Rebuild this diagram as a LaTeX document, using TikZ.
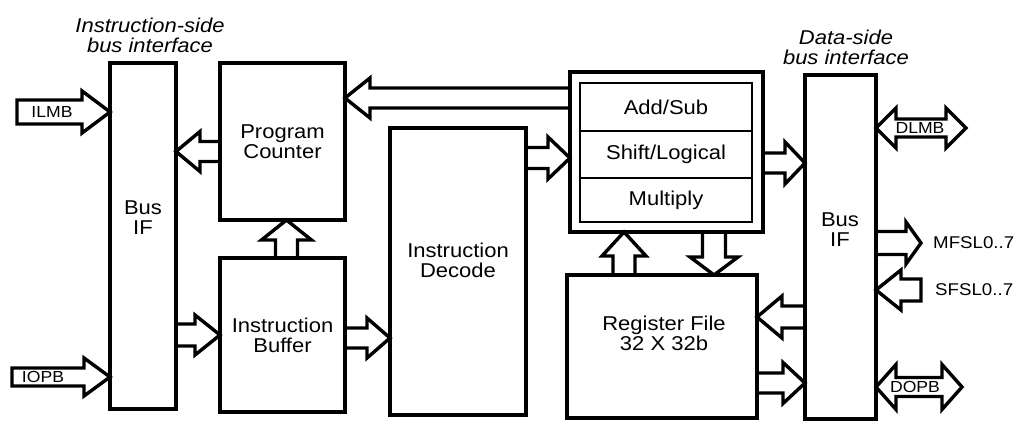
\documentclass[tikz,border=0pt]{standalone}
\usepackage{fontspec}
\usetikzlibrary{calc}
\newfontfamily\diagfont{Liberation Sans}[FakeStretch=1.1]
\tikzset{
	ublock/.style={draw, line width=4.8pt, inner sep=0pt, outer sep=0pt},
	alurow/.style={draw, line width=2.8pt, inner sep=0pt, outer sep=0pt, minimum width=172pt, font=\diagfont\fontsize{20}{20}\selectfont},
	btext/.style={align=center, inner sep=0pt, font=\diagfont\fontsize{20}{20}\selectfont},
	itext/.style={align=center, inner sep=0pt, font=\diagfont\itshape\fontsize{20}{20}\selectfont},
	ptext/.style={inner sep=0pt, font=\diagfont\fontsize{16}{16}\selectfont},
	stext/.style={inner sep=0pt, anchor=west, font=\diagfont\fontsize{17}{17}\selectfont},
	barr/.style={draw, line width=3.4pt, line join=miter}
}
\newcommand{\hblk}[5]{%
	\draw[barr] let \p1=(#1), \p2=(#2), \n1={sign(\x2-\x1)*#5} in
		(\x1,{\y1+#3}) -- ({\x2-\n1},{\y1+#3}) -- ({\x2-\n1},{\y1+#4})
		-- (\x2,\y1) -- ({\x2-\n1},{\y1-#4}) -- ({\x2-\n1},{\y1-#3})
		-- (\x1,{\y1-#3}) -- cycle;}
\newcommand{\vblk}[5]{%
	\draw[barr] let \p1=(#1), \p2=(#2), \n1={sign(\y2-\y1)*#5} in
		({\x1+#3},\y1) -- ({\x1+#3},{\y2-\n1}) -- ({\x1+#4},{\y2-\n1})
		-- (\x1,\y2) -- ({\x1-#4},{\y2-\n1}) -- ({\x1-#3},{\y2-\n1})
		-- ({\x1-#3},\y1) -- cycle;}
\newcommand{\dblk}[5]{%
	\draw[barr] let \p1=(#1), \p2=(#2) in
		(\x1,\y1) -- ({\x1+#5},{\y1+#4}) -- ({\x1+#5},{\y1+#3}) -- ({\x2-#5},{\y1+#3})
		-- ({\x2-#5},{\y1+#4}) -- (\x2,\y1) -- ({\x2-#5},{\y1-#4}) -- ({\x2-#5},{\y1-#3})
		-- ({\x1+#5},{\y1-#3}) -- ({\x1+#5},{\y1-#4}) -- cycle;}
\begin{document}
\begin{tikzpicture}[x=1pt, y=-1pt]
	\useasboundingbox (0,0) rectangle (1016,420);
	\clip (0,0) rectangle (1016,420);
	\node[ublock, minimum width=66pt, minimum height=346pt] (lbus) at (143,236) {};
	\node[ublock, minimum width=125pt, minimum height=157pt, btext] (pc) at (282.5,141.5) {Program\\Counter};
	\node[ublock, minimum width=125pt, minimum height=154pt, btext] (ibuf) at (282.5,335) {Instruction\\Buffer};
	\node[ublock, minimum width=136pt, minimum height=287pt] (idec) at (458,271.5) {};
	\node[ublock, minimum width=193pt, minimum height=160pt] (alu) at (666.5,152) {};
	\node[alurow, minimum height=48pt] (addsub) at (666,107) {Add/Sub};
	\node[alurow, minimum height=47pt] (shifter) at (666,154.5) {Shift/Logical};
	\node[alurow, minimum height=44pt] (mult) at (666,200) {Multiply};
	\node[ublock, minimum width=190pt, minimum height=143pt] (rf) at (662,346.5) {};
	\node[ublock, minimum width=71pt, minimum height=344pt] (rbus) at (840.5,247) {};
	\node[btext] (lbustxt) at (143,218) {Bus\\IF};
	\node[btext] (idectxt) at (458,260) {Instruction\\Decode};
	\node[btext] (rftxt) at (664,333) {Register File\\32 X 32b};
	\node[btext] (rbustxt) at (840,230) {Bus\\IF};
	\node[itext] (ilabel) at (150,35) {Instruction-side\\bus interface};
	\node[itext] (dlabel) at (846,47) {Data-side\\bus interface};
	\coordinate (ilmbtail) at (17,112);
	\coordinate (iopbtail) at (12,377);
	\coordinate (dlmbend) at (966,128);
	\coordinate (mfsltip) at (921,243);
	\coordinate (sfsltail) at (921,290);
	\coordinate (dopbend) at (962,387);
	\hblk{ilmbtail}{lbus.west}{12pt}{21pt}{28pt}
	\hblk{iopbtail}{lbus.west}{9pt}{19pt}{26pt}
	\hblk{$(pc.west)+(0,10)$}{lbus.east}{10pt}{20pt}{24pt}
	\hblk{lbus.east |- ibuf.west}{ibuf.west}{11pt}{20pt}{25pt}
	\vblk{$(ibuf.north)+(4,0)$}{pc.south}{11pt}{25pt}{20pt}
	\hblk{$(ibuf.east)+(0,3)$}{idec.west}{10pt}{20pt}{23pt}
	\hblk{$(idec.east |- alu.west)+(0,6)$}{alu.west}{10.5pt}{21pt}{22pt}
	\hblk{$(alu.north west)+(0,26)$}{pc.east}{10pt}{20pt}{25pt}
	\vblk{$(rf.north)+(-38,0)$}{alu.south}{11pt}{22pt}{24pt}
	\vblk{$(alu.south)+(47.5,0)$}{rf.north}{11.5pt}{24pt}{18pt}
	\hblk{$(alu.east)+(0,11)$}{rbus.west}{10pt}{21pt}{20pt}
	\dblk{$(rbus.north east)+(0,53)$}{dlmbend}{9pt}{20pt}{20pt}
	\hblk{$(rbus.east)+(0,-4)$}{mfsltip}{11.5pt}{21pt}{15pt}
	\hblk{sfsltail}{rbus.east}{11pt}{20pt}{25pt}
	\hblk{$(rbus.west)+(0,70)$}{rf.east}{11pt}{21pt}{25pt}
	\hblk{$(rf.east)+(0,36.5)$}{rbus.west}{10pt}{20.5pt}{22pt}
	\dblk{$(rbus.east)+(0,140)$}{dopbend}{9.5pt}{22.5pt}{20pt}
	\node[ptext] (ilmbtxt) at (52,112) {ILMB};
	\node[ptext] (iopbtxt) at (43,377) {IOPB};
	\node[ptext] (dlmbtxt) at (920,128) {DLMB};
	\node[ptext] (dopbtxt) at (915,387) {DOPB};
	\node[stext] (mfsltxt) at (933,243) {MFSL0..7};
	\node[stext] (sfsltxt) at (935,290) {SFSL0..7};
\end{tikzpicture}
\end{document}
